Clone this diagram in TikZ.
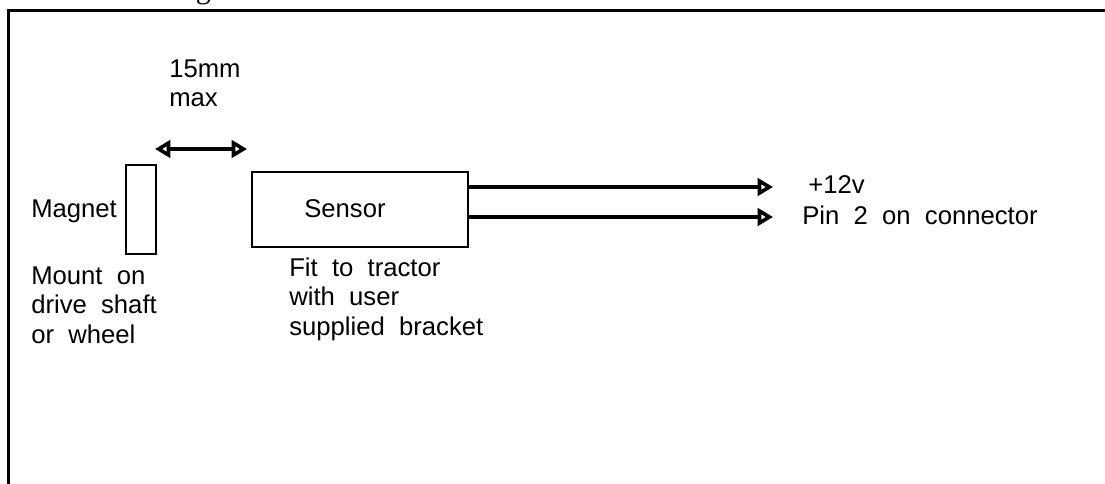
\documentclass[tikz,border=0pt]{standalone}
\usepackage{fontspec}
\setmainfont{Liberation Sans}
\newfontfamily\lblfont{Liberation Sans}[WordSpace=2]
\newfontfamily\titlefont{Liberation Serif}
\usetikzlibrary{arrows.meta}
\begin{document}
\begin{tikzpicture}[x=0.75pt,y=-0.75pt,
  txt/.style={font=\lblfont\fontsize{19.25}{21.9}\selectfont, inner sep=0, anchor=base west, align=left},
  box/.style={draw, line width=1.5pt, inner sep=0},
  tip/.tip={Triangle[open, length=11.5pt, width=13pt]},
  wire/.style={line width=2.7pt, -tip},
  dimarrow/.style={line width=2.7pt, tip-tip},
  frame/.style={line width=2.3pt}
]
\useasboundingbox (0,0) rectangle (1105,484);
\clip (0,0) rectangle (1105,484);
\fill[white] (0,0) rectangle (1105,484);
% frame (only top and left edges visible)
\draw[frame] (8.5,600) -- (8.5,10.5) -- (1200,10.5);
% title, cut off at the top
\node[font=\titlefont\fontsize{22.5}{27}\selectfont, inner sep=0, anchor=base west] (title) at (3,-1) {Sensor Mounting};
% boxes
\node[box, minimum width=22.5pt, minimum height=66.75pt] (magnet) at (141,209.5) {};
\node[box, minimum width=162pt, minimum height=56.25pt] (sensor) at (360,209.5) {};
% texts (base anchor = baseline of the last line)
\node[txt] (gap) at (169,107) {15mm\\max};
\node[txt] (magtxt) at (31,218) {Magnet};
\node[txt] (sentxt) at (304,218) {Sensor};
\node[txt] (mount) at (31,343) {Mount on\\drive shaft\\or wheel};
\node[txt] (fit) at (289,335) {Fit to tractor\\with user\\supplied bracket};
\node[txt] (v12txt) at (808,194) {+12v};
\node[txt] (pintxt) at (802,225) {Pin 2 on connector};
% connectors
\coordinate (gapL) at (155,149);
\coordinate (gapR) at (247,149);
\draw[dimarrow] (gapL) -- (gapR);
\coordinate (v12) at (773,187);
\coordinate (pin2) at (773,217);
\draw[wire] (sensor.east |- v12) -- (v12);
\draw[wire] (sensor.east |- pin2) -- (pin2);
\end{tikzpicture}
\end{document}
